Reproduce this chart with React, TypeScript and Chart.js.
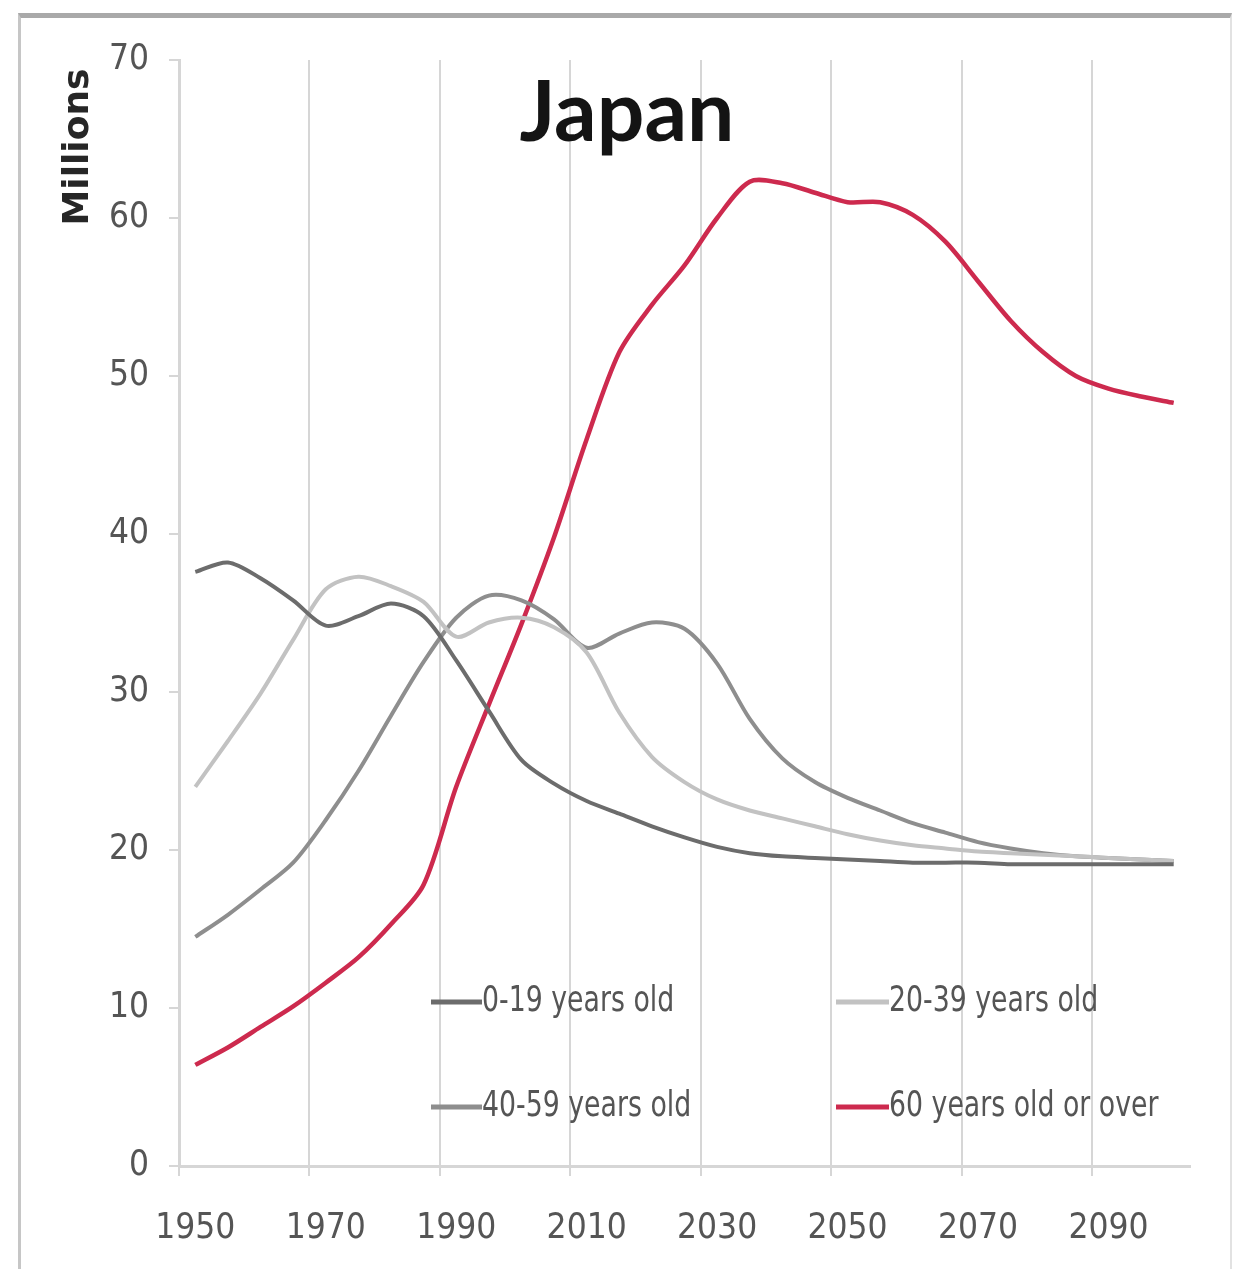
import React, { useEffect, useRef } from 'react';
import { Chart, registerables } from 'chart.js';

Chart.register(...registerables);

const years = [
  '1950', '1955', '1960', '1965', '1970', '1975', '1980', '1985', '1990', '1995',
  '2000', '2005', '2010', '2015', '2020', '2025', '2030', '2035', '2040', '2045',
  '2050', '2055', '2060', '2065', '2070', '2075', '2080', '2085', '2090', '2095', '2100',
];

const age0to19 = [
  37.6, 38.2, 37.2, 35.8, 34.2, 34.8, 35.6, 34.8, 32.0, 28.8,
  25.7, 24.2, 23.1, 22.3, 21.5, 20.8, 20.2, 19.8, 19.6, 19.5,
  19.4, 19.3, 19.2, 19.2, 19.2, 19.1, 19.1, 19.1, 19.1, 19.1, 19.1,
];

const age20to39 = [
  24.0, 26.9, 29.9, 33.3, 36.5, 37.3, 36.7, 35.7, 33.5, 34.4,
  34.7, 34.1, 32.5, 28.7, 25.9, 24.3, 23.2, 22.5, 22.0, 21.5,
  21.0, 20.6, 20.3, 20.1, 19.9, 19.8, 19.7, 19.6, 19.5, 19.4, 19.3,
];

const age40to59 = [
  14.5, 15.9, 17.5, 19.2, 21.9, 25.0, 28.5, 31.9, 34.7, 36.1,
  35.8, 34.6, 32.8, 33.7, 34.4, 34.0, 31.8, 28.3, 25.8, 24.3,
  23.3, 22.5, 21.7, 21.1, 20.5, 20.1, 19.8, 19.6, 19.5, 19.4, 19.3,
];

const age60plus = [
  6.4, 7.5, 8.8, 10.1, 11.6, 13.2, 15.3, 17.8, 24.0, 29.2,
  34.3, 39.8, 46.0, 51.5, 54.5, 57.0, 60.0, 62.3, 62.2, 61.6,
  61.0, 61.0, 60.2, 58.5, 56.0, 53.5, 51.5, 50.0, 49.2, 48.7, 48.3,
];

const seriesLabels = ['0-19 years old', '20-39 years old', '40-59 years old', '60 years old or over'];
const seriesColors = ['#6c6c6c', '#c2c2c2', '#8e8e8e', '#cd2a4e'];

const chartTitle = 'Japan';
const yAxisTitle = 'Millions';

const narrowFont = "'Liberation Sans Narrow', 'DejaVu Sans Condensed', sans-serif";

// legend slot layout (canvas pixels): [lineStartX, textX, centerY]
const legendSlots = [
  [431, 482, 1002],
  [836, 889, 1002],
  [431, 482, 1107],
  [836, 889, 1107],
];

const overlayPlugin = {
  id: 'overlayText',
  afterDraw(chart: any) {
    const ctx = chart.ctx as CanvasRenderingContext2D;
    ctx.save();
    // title
    ctx.fillStyle = '#141414';
    ctx.font = "bold 84px Lato, 'Open Sans', sans-serif";
    ctx.textAlign = 'center';
    ctx.textBaseline = 'alphabetic';
    ctx.fillText(chartTitle, 627, 141);

    // y-axis title
    ctx.save();
    ctx.translate(88, 147);
    ctx.rotate(-Math.PI / 2);
    ctx.font = "bold 36px 'DejaVu Sans', sans-serif";
    ctx.fillStyle = '#262626';
    ctx.textAlign = 'center';
    ctx.textBaseline = 'alphabetic';
    ctx.fillText(yAxisTitle, 0, 0);
    ctx.restore();

    // legend
    chart.data.datasets.forEach((ds: any, i: number) => {
      const [lx, tx, cy] = legendSlots[i];
      ctx.strokeStyle = ds.borderColor;
      ctx.lineWidth = 5;
      ctx.lineCap = 'butt';
      ctx.beginPath();
      ctx.moveTo(lx, cy);
      ctx.lineTo(tx, cy);
      ctx.stroke();
      ctx.save();
      ctx.translate(tx, cy);
      ctx.scale(0.85, 1);
      ctx.font = `35px ${narrowFont}`;
      ctx.fillStyle = '#555555';
      ctx.textAlign = 'left';
      ctx.textBaseline = 'middle';
      ctx.fillText(ds.label, 0, 0);
      ctx.restore();
    });
    ctx.restore();
  },
};

export default function App() {
  const canvasRef = useRef<HTMLCanvasElement | null>(null);

  useEffect(() => {
    const canvas = canvasRef.current;
    if (!canvas) return;
    const seriesData = [age0to19, age20to39, age40to59, age60plus];
    const chart = new Chart(canvas, {
      type: 'line',
      data: {
        labels: years,
        datasets: seriesData.map((d, i) => ({
          label: seriesLabels[i],
          data: d,
          borderColor: seriesColors[i],
          backgroundColor: seriesColors[i],
          borderWidth: i === 3 ? 4.5 : 4,
          pointRadius: 0,
          tension: 0.3,
          fill: false,
        })),
      },
      options: {
        animation: false,
        responsive: false,
        devicePixelRatio: 1,
        layout: { padding: { top: 60, right: 44, left: 0, bottom: 0 } },
        plugins: {
          legend: { display: false },
          title: { display: false },
          tooltip: { enabled: false },
        },
        scales: {
          x: {
            type: 'category',
            offset: true,
            grid: {
              offset: true,
              color: (c: any) => (c.index !== undefined && c.index % 4 === 0 ? '#d6d6d6' : 'rgba(0,0,0,0)'),
              lineWidth: 2,
              tickLength: 10,
              drawTicks: true,
            },
            border: { color: '#d6d6d6', width: 3 },
            ticks: {
              autoSkip: false,
              maxRotation: 0,
              minRotation: 0,
              padding: 32,
              color: '#555555',
              font: { family: narrowFont, size: 35 },
              callback: (_v: any, i: number) => (i % 4 === 0 ? years[i] : ''),
            },
            afterFit: (s: any) => {
              s.height = 103;
            },
          },
          y: {
            min: 0,
            max: 70,
            ticks: {
              stepSize: 10,
              padding: 20,
              color: '#555555',
              font: { family: narrowFont, size: 35 },
            },
            grid: { drawOnChartArea: false, color: '#d6d6d6', tickLength: 10, lineWidth: 2 },
            border: { color: '#d6d6d6', width: 3 },
            afterFit: (s: any) => {
              s.width = 179;
            },
          },
        },
      },
      plugins: [overlayPlugin],
    });
    return () => chart.destroy();
  }, []);

  return (
    <div style={{ position: 'fixed', left: 0, top: 0, width: 1234, height: 1269, background: '#ffffff', overflow: 'hidden' }}>
      <div
        style={{
          position: 'absolute',
          left: 18,
          top: 13,
          width: 1234 - 18 - 2,
          height: 1300,
          borderTop: '5px solid #a9a9a9',
          borderLeft: '3px solid #c6c6c6',
          borderRight: '2px solid #e2e2e2',
          boxSizing: 'border-box',
        }}
      />
      <canvas
        ref={canvasRef}
        width={1234}
        height={1269}
        style={{ position: 'absolute', left: 0, top: 0, width: 1234, height: 1269 }}
      />
    </div>
  );
}
